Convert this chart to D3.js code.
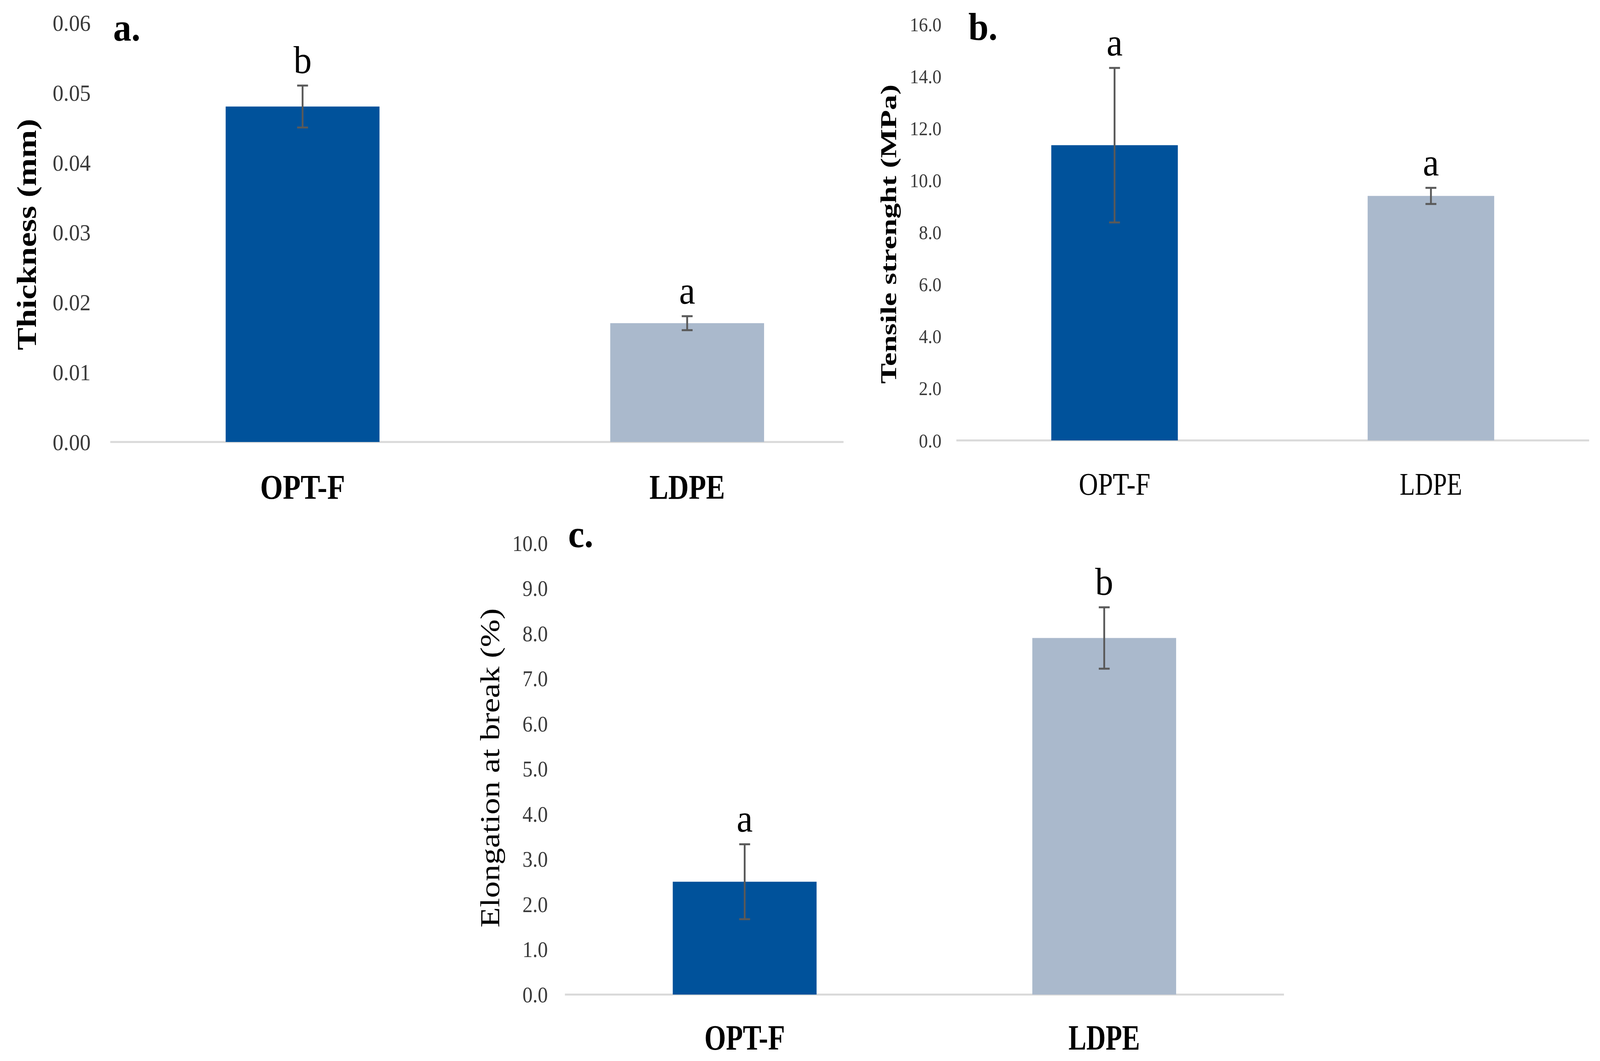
<!DOCTYPE html>
<html>
<head>
<meta charset="utf-8">
<script src="https://cdn.jsdelivr.net/npm/d3@7"></script>
<style>
  html, body { margin: 0; padding: 0; background: #ffffff; overflow: hidden; width: 100%; height: 100%; }
  svg { display: block; position: absolute; left: 0; top: 0; width: 100vw; height: 100vh; }
</style>
</head>
<body>
<svg id="chart" viewBox="0 0 4410 2715" preserveAspectRatio="none"></svg>
<script>
// ---------------- DATA ----------------
const categories = ["OPT-F", "LDPE"];

const thicknessMean = [0.048, 0.017];
const thicknessErr = [0.003, 0.001];
const thicknessLetters = ["b", "a"];
const thicknessTicks = [0, 0.01, 0.02, 0.03, 0.04, 0.05, 0.06];

const tensileMean = [11.35, 9.4];
const tensileErr = [2.97, 0.31];
const tensileLetters = ["a", "a"];
const tensileTicks = [0, 2, 4, 6, 8, 10, 12, 14, 16];

const elongMean = [2.5, 7.9];
const elongErr = [0.83, 0.68];
const elongLetters = ["a", "b"];
const elongTicks = [0, 1, 2, 3, 4, 5, 6, 7, 8, 9, 10];

const barColors = ["#00529b", "#aab9cc"];

// ---------------- LAYOUT ----------------
const FONT = "'Liberation Serif', 'Times New Roman', serif";
const svg = d3.select("#chart");

const panels = [
  {
    mean: thicknessMean, err: thicknessErr, letters: thicknessLetters, ticks: thicknessTicks,
    fmt: d3.format(".2f"), yMax: 0.06,
    x0: 304, x1: 2424, axisEnd: 2325, yTop: 58, yBase: 1131,
    tickRight: 250, tickSize: 60,
    title: "Thickness (mm)", titleBold: true, titleX: 75, titleY: 600, titleSize: 76, titleLen: 592,
    tag: "a.", tagX: 312, tagY: 104,
    labelBold: true, labelY: 1276, labelSize: 88, labelLens: [234, 208]
  },
  {
    mean: tensileMean, err: tensileErr, letters: tensileLetters, ticks: tensileTicks,
    fmt: d3.format(".1f"), yMax: 16,
    x0: 2636, x1: 4380, axisEnd: 4380, yTop: 62, yBase: 1127,
    tickRight: 2595, tickSize: 50,
    title: "Tensile strenght (MPa)", titleBold: true, titleX: 2450, titleY: 599, titleSize: 62, titleLen: 766,
    tag: "b.", tagX: 2669, tagY: 102,
    labelBold: false, labelY: 1266, labelSize: 80, labelLens: [197, 172]
  },
  {
    mean: elongMean, err: elongErr, letters: elongLetters, ticks: elongTicks,
    fmt: d3.format(".1f"), yMax: 10,
    x0: 1557, x1: 3539, axisEnd: 3539, yTop: 1390, yBase: 2545,
    tickRight: 1510, tickSize: 56,
    title: "Elongation at break (%)", titleBold: false, titleX: 1352, titleY: 1965, titleSize: 76, titleLen: 817,
    tag: "c.", tagX: 1566, tagY: 1400,
    labelBold: true, labelY: 2686, labelSize: 90, labelLens: [222, 197]
  }
];

panels.forEach(p => {
  const g = svg.append("g");

  const x = d3.scaleBand()
    .domain(categories)
    .range([p.x0, p.x1])
    .paddingInner(0.6)
    .paddingOuter(0.3);

  const y = d3.scaleLinear()
    .domain([0, p.yMax])
    .range([p.yBase, p.yTop]);

  // Y axis tick labels
  const yAxis = d3.axisLeft(y)
    .tickValues(p.ticks)
    .tickFormat(p.fmt)
    .tickSize(0)
    .tickPadding(0);
  const ya = g.append("g")
    .attr("transform", `translate(${p.tickRight},0)`)
    .call(yAxis);
  ya.select(".domain").remove();
  ya.selectAll("text")
    .attr("x", 0)
    .attr("dy", "0.34em")
    .attr("fill", "#3a3a3a")
    .style("font-family", FONT)
    .style("font-size", p.tickSize + "px");

  // Baseline (category axis line)
  g.append("line")
    .attr("x1", p.x0).attr("x2", p.axisEnd)
    .attr("y1", y(0)).attr("y2", y(0))
    .attr("stroke", "#d9d9d9")
    .attr("stroke-width", 5);

  const idx = categories.map((c, i) => i);

  // Bars
  g.selectAll("rect.bar")
    .data(idx)
    .enter().append("rect")
    .attr("class", "bar")
    .attr("x", i => x(categories[i]))
    .attr("width", x.bandwidth())
    .attr("y", i => y(p.mean[i]))
    .attr("height", i => y(0) - y(p.mean[i]))
    .attr("fill", i => barColors[i]);

  // Error bars
  const cap = 15;
  idx.forEach(i => {
    const cx = x(categories[i]) + x.bandwidth() / 2;
    const hi = y(p.mean[i] + p.err[i]);
    const lo = y(p.mean[i] - p.err[i]);
    const eg = g.append("g").attr("stroke", "#595959").attr("stroke-width", 5);
    eg.append("line").attr("x1", cx).attr("x2", cx).attr("y1", hi).attr("y2", lo);
    eg.append("line").attr("x1", cx - cap).attr("x2", cx + cap).attr("y1", hi).attr("y2", hi);
    eg.append("line").attr("x1", cx - cap).attr("x2", cx + cap).attr("y1", lo).attr("y2", lo);

    // significance letters
    g.append("text")
      .attr("x", cx)
      .attr("y", hi - 32)
      .attr("text-anchor", "middle")
      .attr("fill", "#000")
      .style("font-family", FONT)
      .style("font-size", "100px")
      .text(p.letters[i]);
  });

  // X axis category labels
  const xAxis = d3.axisBottom(x).tickSize(0).tickPadding(0);
  const xa = g.append("g")
    .attr("transform", `translate(0,0)`)
    .call(xAxis);
  xa.select(".domain").remove();
  xa.selectAll("text")
    .attr("y", p.labelY)
    .attr("dy", 0)
    .attr("fill", "#000")
    .attr("textLength", (d, i) => p.labelLens[i])
    .attr("lengthAdjust", "spacingAndGlyphs")
    .style("font-family", FONT)
    .style("font-size", p.labelSize + "px")
    .style("font-weight", p.labelBold ? "bold" : "normal");

  // Y axis title
  g.append("text")
    .attr("transform", `translate(${p.titleX},${p.titleY}) rotate(-90)`)
    .attr("text-anchor", "middle")
    .attr("dy", "0.32em")
    .attr("fill", "#000")
    .attr("textLength", p.titleLen)
    .attr("lengthAdjust", "spacingAndGlyphs")
    .style("font-family", FONT)
    .style("font-size", p.titleSize + "px")
    .style("font-weight", p.titleBold ? "bold" : "normal")
    .text(p.title);

  // Panel tag
  g.append("text")
    .attr("x", p.tagX)
    .attr("y", p.tagY)
    .attr("fill", "#000")
    .style("font-family", FONT)
    .style("font-size", "100px")
    .style("font-weight", "bold")
    .text(p.tag);
});
</script>
</body>
</html>
